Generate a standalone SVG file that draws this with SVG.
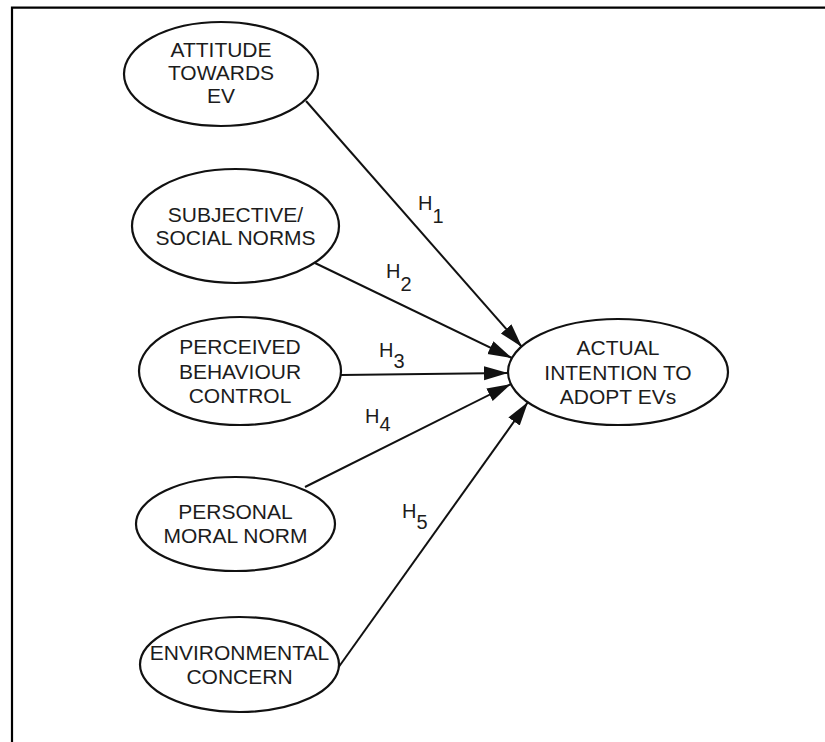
<svg xmlns="http://www.w3.org/2000/svg" width="825" height="742" viewBox="0 0 825 742">
<style>
.node ellipse{fill:#fff;stroke:#111;stroke-width:2.2}
.node text{font-family:"Liberation Sans",Arial,sans-serif;font-size:21px;fill:#1c1c1c;text-anchor:middle}
.edge line{stroke:#111;stroke-width:2}
.lbl{font-family:"Liberation Sans",Arial,sans-serif;font-size:20px;fill:#1c1c1c}
</style>
<defs>
<marker id="arr" markerUnits="userSpaceOnUse" markerWidth="26" markerHeight="16" refX="24" refY="7" orient="auto">
<path d="M0,0 L24,7 L0,14 Z" fill="#111"/>
</marker>
</defs>
<rect width="825" height="742" fill="#fff"/>
<path d="M12,742 V7.7 H825" fill="none" stroke="#000" stroke-width="2.2"/>
<g id="connectors" class="edge">
<line x1="306" y1="101" x2="522" y2="347" marker-end="url(#arr)"/>
<line x1="315" y1="263" x2="512" y2="358" marker-end="url(#arr)"/>
<line x1="341" y1="375" x2="508" y2="373" marker-end="url(#arr)"/>
<line x1="305" y1="487" x2="511" y2="384" marker-end="url(#arr)"/>
<line x1="338" y1="668" x2="528" y2="402" marker-end="url(#arr)"/>
</g>
<g id="labels">
<text class="lbl" x="418" y="210">H<tspan dy="13">1</tspan></text>
<text class="lbl" x="386" y="278">H<tspan dy="13">2</tspan></text>
<text class="lbl" x="379" y="357">H<tspan dy="11">3</tspan></text>
<text class="lbl" x="365" y="423">H<tspan dy="8">4</tspan></text>
<text class="lbl" x="402" y="518">H<tspan dy="11">5</tspan></text>
</g>
<g id="attitude" class="node">
<ellipse cx="221" cy="74" rx="97" ry="52"/>
<text x="221" y="57">ATTITUDE</text>
<text x="221" y="80">TOWARDS</text>
<text x="221" y="103">EV</text>
</g>
<g id="subjective" class="node">
<ellipse cx="235.5" cy="226" rx="103.5" ry="57"/>
<text x="235.5" y="221.5">SUBJECTIVE/</text>
<text x="235.5" y="245">SOCIAL NORMS</text>
</g>
<g id="perceived" class="node">
<ellipse cx="240" cy="371" rx="101" ry="54"/>
<text x="240" y="354">PERCEIVED</text>
<text x="240" y="378.5">BEHAVIOUR</text>
<text x="240" y="403">CONTROL</text>
</g>
<g id="personal" class="node">
<ellipse cx="235.5" cy="524" rx="99.5" ry="47"/>
<text x="235.5" y="519">PERSONAL</text>
<text x="235.5" y="543">MORAL NORM</text>
</g>
<g id="environmental" class="node">
<ellipse cx="239.5" cy="664.5" rx="99.5" ry="47.5"/>
<text x="239.5" y="660">ENVIRONMENTAL</text>
<text x="239.5" y="684">CONCERN</text>
</g>
<g id="actual" class="node">
<ellipse cx="618" cy="372" rx="110" ry="53"/>
<text x="618" y="355">ACTUAL</text>
<text x="618" y="380">INTENTION TO</text>
<text x="618" y="404">ADOPT EVs</text>
</g>
</svg>
